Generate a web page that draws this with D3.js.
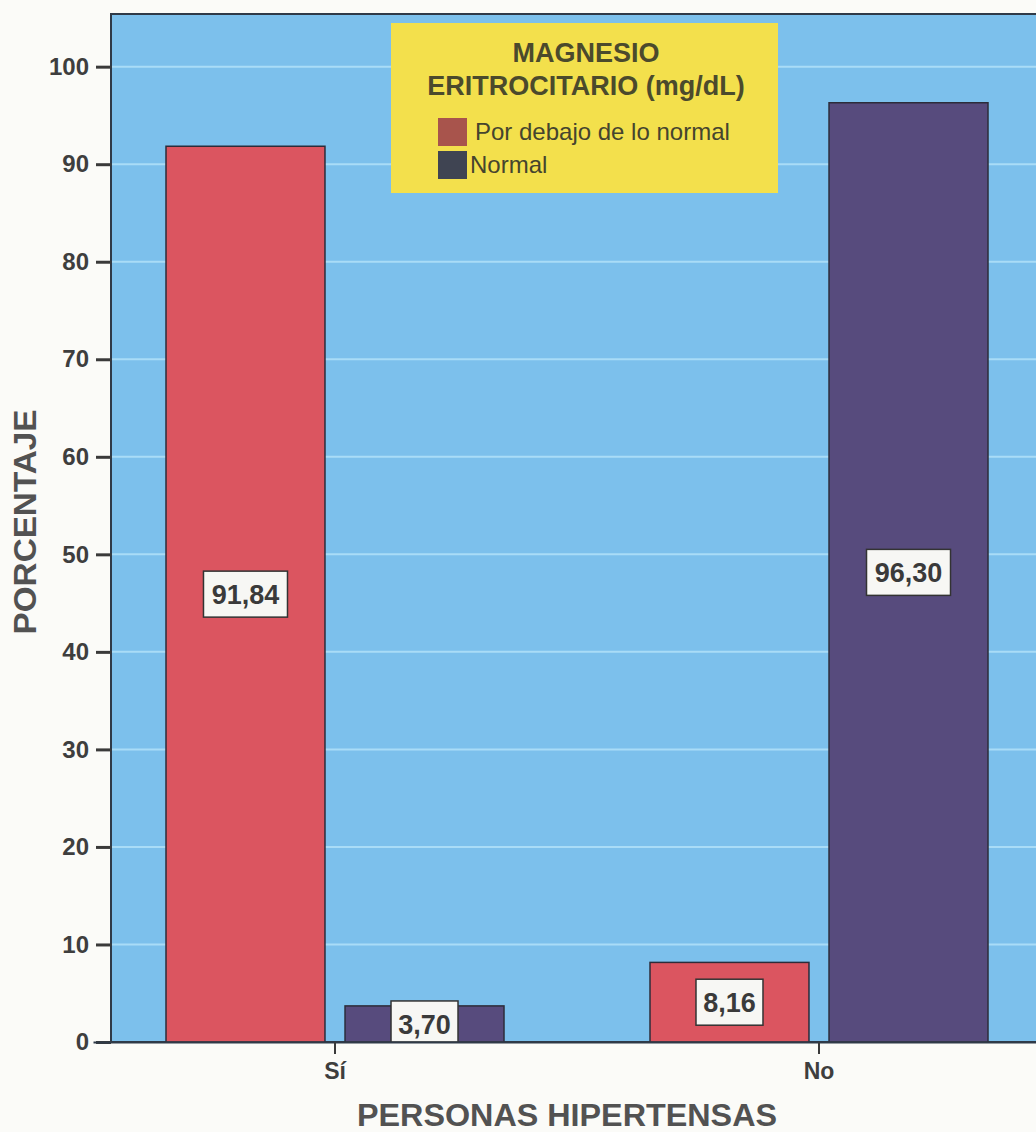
<!DOCTYPE html>
<html><head><meta charset="utf-8">
<script src="https://cdn.jsdelivr.net/npm/d3@7"></script>
<style>body{margin:0;background:#fbfbf8;}svg{display:block;font-family:"Liberation Sans",Arial,sans-serif;}</style>
</head><body><svg id="c" width="1036" height="1132"></svg>
<script>
const categories = ["Sí", "No"];
const series = ["Por debajo de lo normal", "Normal"];
const valuesBajo = [91.84, 8.16];
const valuesNormal = [3.70, 96.30];
const labelsBajo = ["91,84", "8,16"];
const labelsNormal = ["3,70", "96,30"];
const yTicks = [0,10,20,30,40,50,60,70,80,90,100];
const legendTitle = ["MAGNESIO", "ERITROCITARIO (mg/dL)"];
const xTitle = "PERSONAS HIPERTENSAS";
const yTitle = "PORCENTAJE";

const colors = {"Por debajo de lo normal":"#db5560","Normal":"#574b7d"};
const legendColors = {"Por debajo de lo normal":"#a8544c","Normal":"#3f4452"};

const svg = d3.select("#c");
const plot = {left:111, right:1060, top:14, bottom:1042};

const y = d3.scaleLinear().domain([0,105.4]).range([plot.bottom, plot.top]);
const x0 = d3.scaleBand().domain(categories).range([93,1061]).padding(0);
const x1 = d3.scaleBand().domain(series).range([73,411]).paddingInner(0.112).paddingOuter(0);

// background
svg.append("rect").attr("x",plot.left).attr("y",plot.top).attr("width",plot.right-plot.left).attr("height",plot.bottom-plot.top)
  .attr("fill","#7cc0ec").attr("stroke","#2f3a48").attr("stroke-width",2);

// gridlines
svg.append("g").selectAll("line").data(yTicks.filter(d=>d>0)).join("line")
  .attr("x1",plot.left+1).attr("x2",plot.right).attr("y1",d=>y(d)).attr("y2",d=>y(d))
  .attr("stroke","#a9dcf7").attr("stroke-width",2);

// bars
const data = categories.map((c,i)=>({cat:c, items:[
  {s:series[0], v:valuesBajo[i], l:labelsBajo[i]},
  {s:series[1], v:valuesNormal[i], l:labelsNormal[i]}]}));

const g = svg.append("g").selectAll("g").data(data).join("g")
  .attr("transform",d=>`translate(${x0(d.cat)},0)`);
g.selectAll("rect").data(d=>d.items).join("rect")
  .attr("x",d=>x1(d.s)).attr("width",x1.bandwidth())
  .attr("y",d=>y(d.v)).attr("height",d=>y(0)-y(d.v))
  .attr("fill",d=>colors[d.s]).attr("stroke","#2c2c3a").attr("stroke-width",1.5);

// value labels
const lab = g.selectAll("g.lab").data(d=>d.items).join("g").attr("class","lab")
  .attr("transform",d=>`translate(${x1(d.s)+x1.bandwidth()/2},${y(d.v/2)})`);
lab.append("rect").attr("y",-23)
  .attr("height",d=>Math.min(46, y(0)-y(d.v/2)+23))
  .attr("fill","#f7f7f4").attr("stroke","#333").attr("stroke-width",1.5)
  .attr("width",d=>d.l.length>4?84:67).attr("x",d=>d.l.length>4?-42:-33.5);
lab.append("text").attr("text-anchor","middle").attr("dy","0.36em")
  .attr("font-size",27).attr("font-weight","bold").attr("fill","#3a3a3a").text(d=>d.l);

// y axis
const ya = svg.append("g").attr("transform",`translate(${plot.left},0)`)
  .call(d3.axisLeft(y).tickValues(yTicks).tickSize(15).tickSizeOuter(0).tickPadding(7).tickFormat(d3.format("d")));
ya.select(".domain").remove();
ya.selectAll("line").attr("stroke","#3a3a3a").attr("stroke-width",3);
ya.selectAll("text").attr("font-size",24).attr("font-weight","bold").attr("fill","#3e3e3e")
  .attr("font-family","'Liberation Sans',Arial,sans-serif");

// x axis
const xa = svg.append("g").attr("transform",`translate(0,${plot.bottom})`)
  .call(d3.axisBottom(x0).tickSize(12).tickSizeOuter(0).tickPadding(9));
xa.select(".domain").attr("stroke","#2f3a48").attr("stroke-width",2);
xa.selectAll("line").attr("stroke","#3a3a3a").attr("stroke-width",2);
xa.selectAll("text").attr("font-size",23).attr("font-weight","bold").attr("fill","#3e3e3e")
  .attr("font-family","'Liberation Sans',Arial,sans-serif");

// titles
svg.append("text").attr("x",567).attr("y",1126).attr("text-anchor","middle")
  .attr("font-size",32).attr("font-weight","bold").attr("fill","#525252")
  .attr("textLength",420).attr("lengthAdjust","spacingAndGlyphs").text(xTitle);
svg.append("text").attr("transform","translate(36,522) rotate(-90)").attr("text-anchor","middle")
  .attr("font-size",31).attr("font-weight","bold").attr("fill","#525252")
  .attr("textLength",225).attr("lengthAdjust","spacingAndGlyphs").text(yTitle);

// legend
const lg = svg.append("g");
lg.append("rect").attr("x",391).attr("y",23).attr("width",387).attr("height",170).attr("fill","#f3e04c");
lg.selectAll("text.t").data(legendTitle).join("text").attr("class","t")
  .attr("x",586).attr("y",(d,i)=>62+i*33).attr("text-anchor","middle")
  .attr("font-size",27).attr("font-weight","bold").attr("fill","#4b4a2c").text(d=>d);
const li = lg.selectAll("g.it").data(series).join("g").attr("class","it")
  .attr("transform",(d,i)=>`translate(438,${118+i*33})`);
li.append("rect").attr("width",29).attr("height",28).attr("fill",d=>legendColors[d]);
li.append("text").attr("x",(d,i)=>i==0?37:32).attr("y",22).attr("font-size",24).attr("fill","#45442e").text(d=>d);
</script></body></html>
